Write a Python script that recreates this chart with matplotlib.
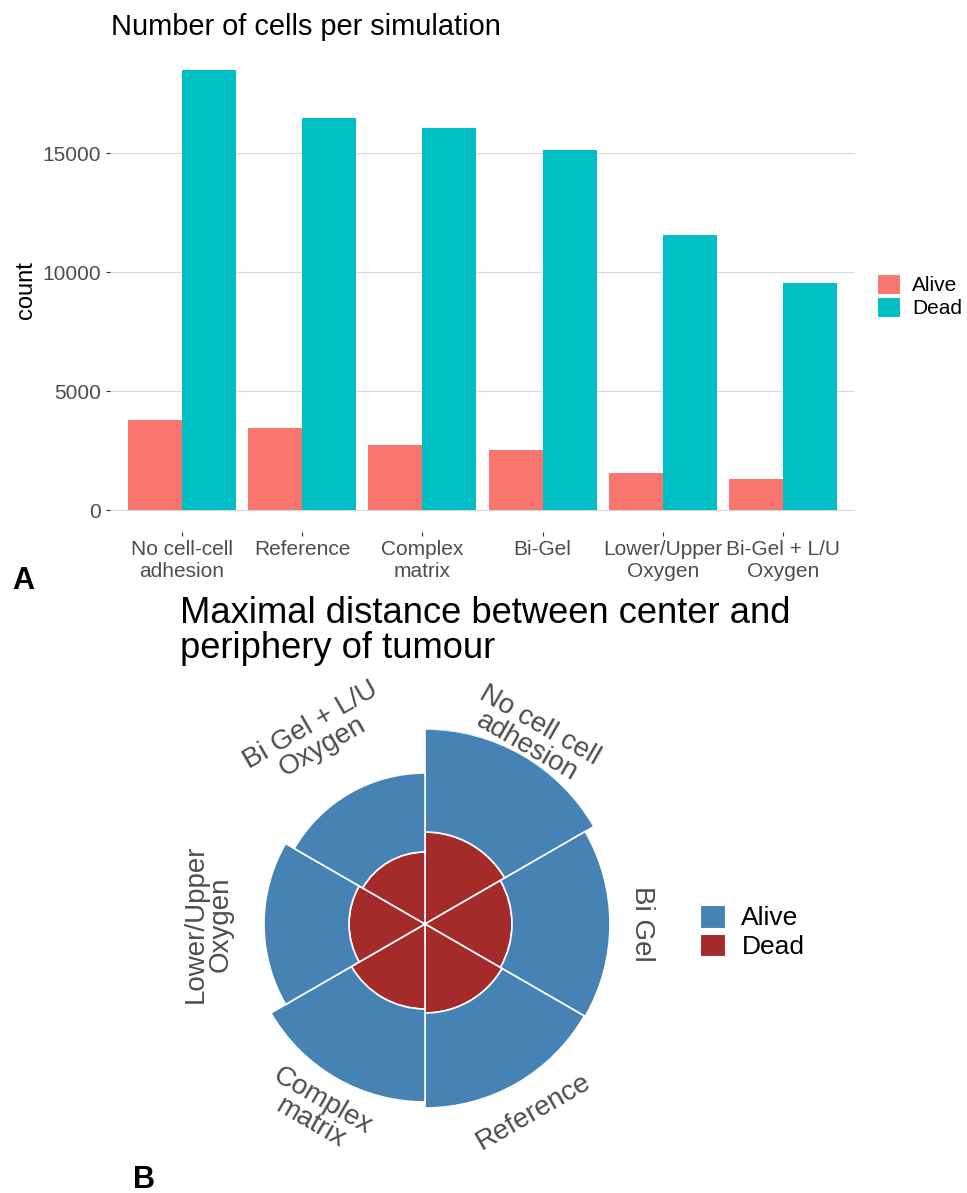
import numpy as np
import matplotlib
matplotlib.use("Agg")
import matplotlib.pyplot as plt
from matplotlib.patches import Patch

plt.rcParams['font.family'] = ['Liberation Sans', 'DejaVu Sans']

# ---- Panel A data: cell counts per simulation ----
simulations = ["No cell-cell\nadhesion", "Reference", "Complex\nmatrix",
               "Bi-Gel", "Lower/Upper\nOxygen", "Bi-Gel + L/U\nOxygen"]
alive_counts = [3794, 3458, 2731, 2521, 1567, 1315]
dead_counts = [18500, 16483, 16063, 15139, 11555, 9538]
status_labels = ["Alive", "Dead"]

# ---- Panel B data: maximal centre-to-periphery distance ----
polar_groups = ["No cell cell\nadhesion", "Bi Gel", "Reference",
                "Complex\nmatrix", "Lower/Upper\nOxygen", "Bi Gel + L/U\nOxygen"]
dead_distance = [92, 87, 89, 85, 76, 72]
alive_distance = [103, 98, 95, 93, 85, 79]

W, H = 967, 1193
fig = plt.figure(figsize=(W / 100, H / 100), dpi=100)

GREY_TXT = '#4D4D4D'
C_ALIVE, C_DEAD = '#F8766D', '#00BFC4'
P_ALIVE, P_DEAD = '#4682B4', '#A52A2A'

# ================= Panel A =================
ax1 = fig.add_axes([110 / W, 1 - 532 / H, 745 / W, 484 / H])
x = np.arange(1, len(simulations) + 1)
bw = 0.45
ax1.bar(x - bw / 2, alive_counts, width=bw, color=C_ALIVE, zorder=2)
ax1.bar(x + bw / 2, dead_counts, width=bw, color=C_DEAD, zorder=2)

top = max(max(alive_counts), max(dead_counts))
pad = 0.05 * top
ax1.set_xlim(0.4, len(simulations) + 0.6)
ax1.set_ylim(-pad, top + pad)
ax1.set_yticks([0, 5000, 10000, 15000])
ax1.set_xticks(x)
ax1.set_xticklabels(simulations)
ax1.yaxis.grid(True, color='#D9D9D9', linewidth=0.8)
ax1.xaxis.grid(False)
ax1.set_axisbelow(True)
for s in ax1.spines.values():
    s.set_visible(False)
ax1.tick_params(axis='both', length=3, width=0.8, color='#333333',
                labelcolor=GREY_TXT, labelsize=15)
ax1.tick_params(axis='y', pad=3.5)
ax1.tick_params(axis='x', pad=2.5)
ax1.set_ylabel('count', fontsize=17, color='black', labelpad=4)

ax1.legend(handles=[Patch(facecolor=C_ALIVE, edgecolor='white', linewidth=0.8),
                    Patch(facecolor=C_DEAD, edgecolor='white', linewidth=0.8)],
           labels=status_labels, loc='center left',
           bbox_to_anchor=(877 / W, 1 - 296 / H), bbox_transform=fig.transFigure,
           frameon=False, fontsize=15, handlelength=1.08, handleheight=1.08,
           handletextpad=0.6, labelspacing=0.12, borderpad=0, borderaxespad=0)

fig.text(111 / W, 1 - 35 / H, 'Number of cells per simulation',
         fontsize=20.9, va='baseline', ha='left')
fig.text(12 / W, 1 - 589 / H, 'A', fontsize=22, fontweight='bold',
         va='baseline', ha='left')

# ================= Panel B =================
r_px = 195
axp = fig.add_axes([(425 - r_px) / W, 1 - (924 + r_px) / H,
                    2 * r_px / W, 2 * r_px / H], projection='polar')
axp.set_theta_zero_location('N')
axp.set_theta_direction(-1)
n = len(polar_groups)
theta = np.deg2rad(360 / n * (np.arange(n) + 0.5))
wedge = np.deg2rad(360 / n)
axp.bar(theta, dead_distance, width=wedge, color=P_DEAD,
        edgecolor='white', linewidth=1.2)
axp.bar(theta, alive_distance, width=wedge, bottom=dead_distance,
        color=P_ALIVE, edgecolor='white', linewidth=1.2)
rmax = max(d + a for d, a in zip(dead_distance, alive_distance))
axp.set_ylim(0, rmax)
axp.set_axis_off()

r_lab = rmax * 0.445 / 0.4
for th, lab in zip(theta, polar_groups):
    rot = (-np.rad2deg(th)) % 360
    if rot >= 270:
        rot -= 360
    elif rot > 90:
        rot -= 180
    axp.text(th, r_lab, lab, rotation=rot, rotation_mode='anchor',
             ha='center', va='center', fontsize=20, color=GREY_TXT,
             linespacing=0.95)

axp.legend(handles=[Patch(facecolor=P_ALIVE, edgecolor='white', linewidth=0.8),
                    Patch(facecolor=P_DEAD, edgecolor='white', linewidth=0.8)],
           labels=status_labels, loc='center left',
           bbox_to_anchor=(700 / W, 1 - 932 / H), bbox_transform=fig.transFigure,
           frameon=False, fontsize=19, handlelength=0.95, handleheight=0.95,
           handletextpad=0.62, labelspacing=0.12, borderpad=0, borderaxespad=0)

fig.text(180 / W, 1 - 658 / H, 'Maximal distance between center and\nperiphery of tumour',
         fontsize=26.2, va='baseline', ha='left', linespacing=1.0)
fig.text(133 / W, 1 - 1188 / H, 'B', fontsize=22, fontweight='bold',
         va='baseline', ha='left')

fig.savefig('out.png', dpi=100)
